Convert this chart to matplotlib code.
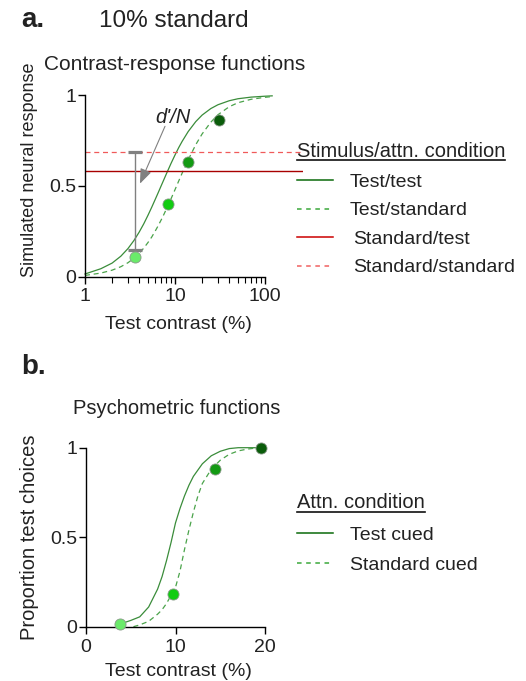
import matplotlib
matplotlib.use("Agg")
import matplotlib.pyplot as plt
from matplotlib.lines import Line2D

plt.rcParams['font.family'] = ['Liberation Sans', 'DejaVu Sans']
TXT = '#222222'

# ---------------- data ----------------
# panel a: contrast-response functions (test contrast in %)
crf_contrast = [1, 1.5, 2, 2.5, 3, 3.5, 4, 4.5, 5, 5.5, 6, 6.5, 7, 7.5, 8, 9, 10, 11, 12,
                14, 17, 20, 25, 30, 40, 50, 70, 100, 120]
crf_test_test = [0.015, 0.044, 0.075, 0.113, 0.155, 0.200, 0.246, 0.292, 0.338, 0.382,
                 0.424, 0.463, 0.500, 0.534, 0.566, 0.623, 0.671, 0.712, 0.746,
                 0.800, 0.855, 0.891, 0.927, 0.948, 0.970, 0.981, 0.990, 0.995, 0.997]
crf_test_standard = [0.007, 0.020, 0.036, 0.055, 0.077, 0.102, 0.129, 0.158, 0.188, 0.218,
                     0.250, 0.281, 0.312, 0.342, 0.372, 0.428, 0.480, 0.528, 0.571,
                     0.644, 0.728, 0.787, 0.852, 0.893, 0.937, 0.959, 0.978, 0.989, 0.993]
standard_test_resp = 0.583
standard_standard_resp = 0.687
dots_a_contrast = [3.6, 8.4, 13.8, 30.6]
dots_a_resp = [0.11, 0.40, 0.632, 0.862]
dprime_x = 3.6
dprime_lo = 0.147
dprime_hi = 0.687

# panel b: psychometric functions
psy_contrast_test = [3.8, 5, 6, 7, 7.5, 8, 8.5, 9, 9.5, 10, 10.5, 11, 11.5, 12, 13, 14,
                     15, 16, 17, 18, 19, 20]
psy_test_cued = [0.015, 0.035, 0.055, 0.11, 0.16, 0.21, 0.28, 0.37, 0.47, 0.58, 0.66,
                 0.73, 0.79, 0.84, 0.91, 0.955, 0.98, 0.995, 1.0, 1.0, 1.0, 1.0]
psy_contrast_std = [5.3, 6, 7, 7.5, 8, 8.5, 9, 9.5, 10, 10.5, 11, 11.5, 12, 12.5, 13, 14,
                    15, 16, 17, 18, 19, 19.6]
psy_standard_cued = [0.0, 0.01, 0.03, 0.05, 0.07, 0.095, 0.13, 0.175, 0.22, 0.31, 0.43,
                     0.54, 0.64, 0.73, 0.80, 0.88, 0.93, 0.963, 0.982, 0.992, 0.998, 1.0]
dots_b_contrast = [3.8, 9.7, 14.4, 19.6]
dots_b_prop = [0.015, 0.18, 0.88, 0.997]

dot_colors = ['#6aea6a', '#12cc12', '#139a13', '#0a5c0a']

legend_a_title = 'Stimulus/attn. condition'
legend_a_labels = ['Test/test', 'Test/standard', 'Standard/test', 'Standard/standard']
legend_b_title = 'Attn. condition'
legend_b_labels = ['Test cued', 'Standard cued']

# ---------------- figure ----------------
W, H = 526, 681
fig = plt.figure(figsize=(W / 100, H / 100), dpi=100)


def fx(px):
    return px / W


def fy(py):
    return 1 - py / H


CURVE_SOLID = '#3a8c3a'
CURVE_DASH = '#4aa34a'
DARKRED = '#a80000'
PINK = '#f05a5a'
FS = 14

# ---- panel a ----
ax1 = fig.add_axes([fx(85), fy(276.7), (303 - 85) / W, 181.4 / H])
ax1.set_xscale('log')
ax1.set_xlim(1, 264)
ax1.set_ylim(0, 1)
ax1.plot(crf_contrast, crf_test_test, color=CURVE_SOLID, lw=0.9, clip_on=False)
ax1.plot(crf_contrast, crf_test_standard, color=CURVE_DASH, lw=0.9, ls=(0, (4, 3)),
         clip_on=False)
ax1.axhline(standard_test_resp, color=DARKRED, lw=1.0)
ax1.axhline(standard_standard_resp, color=PINK, lw=0.9, ls=(0, (4, 3)))
mid = (dprime_lo + dprime_hi) / 2
ax1.errorbar([dprime_x], [mid], yerr=[[mid - dprime_lo], [dprime_hi - mid]],
             color='#808080', lw=1.0, capsize=5.3, capthick=2.3, fmt='none')
for c, r, col in zip(dots_a_contrast, dots_a_resp, dot_colors):
    ax1.plot([c], [r], 'o', ms=8, mfc=col, mec='#8a9a8a', mew=0.6, zorder=5, clip_on=False)
ax1.annotate('', xy=(4.08, 0.513), xytext=(7.74, 0.829),
             arrowprops=dict(arrowstyle='-|>,head_length=0.9,head_width=0.35',
                             color='#808080', lw=0.8, shrinkA=0, shrinkB=0))
ax1.text(9.4, 0.878, "d'/N", style='italic', fontsize=FS + 0.5, color=TXT,
         ha='center', va='center')

for s in ['top', 'right']:
    ax1.spines[s].set_visible(False)
ax1.spines['bottom'].set_bounds(1, 100)
ax1.spines['left'].set_bounds(0, 1)
for s in ['bottom', 'left']:
    ax1.spines[s].set_linewidth(1.0)
ax1.set_xticks([1, 10, 100])
ax1.set_xticklabels(['1', '10', '100'])
ax1.set_xticks([2, 3, 4, 5, 6, 7, 8, 9, 20, 30, 40, 50, 60, 70, 80, 90], minor=True)
ax1.xaxis.set_minor_formatter(matplotlib.ticker.NullFormatter())
ax1.set_yticks([0, 0.5, 1])
ax1.set_yticklabels(['0', '0.5', '1'])
ax1.tick_params(axis='both', which='major', length=5, width=1.0, labelsize=FS,
                labelcolor=TXT, pad=3)
ax1.tick_params(axis='x', which='minor', length=4, width=0.8)
ax1.tick_params(axis='y', pad=1.5)
ax1.set_xlabel('Test contrast (%)', fontsize=FS, color=TXT)
ax1.xaxis.set_label_coords((178 - 85) / (303 - 85), -0.215)

fig.text(fx(30), fy(170), 'Simulated neural response', rotation=90, fontsize=13,
         color=TXT, ha='center', va='center')

# ---- panel b ----
ax2 = fig.add_axes([fx(86), fy(626.7), 179 / W, 179 / H])
ax2.set_xlim(0, 20)
ax2.set_ylim(0, 1)
ax2.plot(psy_contrast_test, psy_test_cued, color=CURVE_SOLID, lw=0.9, clip_on=False)
ax2.plot(psy_contrast_std, psy_standard_cued, color=CURVE_DASH, lw=0.9, ls=(0, (4, 3)),
         clip_on=False)
for c, p, col in zip(dots_b_contrast, dots_b_prop, dot_colors):
    ax2.plot([c], [p], 'o', ms=8, mfc=col, mec='#8a9a8a', mew=0.6, zorder=5, clip_on=False)
for s in ['top', 'right']:
    ax2.spines[s].set_visible(False)
for s in ['bottom', 'left']:
    ax2.spines[s].set_linewidth(1.0)
ax2.set_xticks([0, 10, 20])
ax2.set_yticks([0, 0.5, 1])
ax2.set_yticklabels(['0', '0.5', '1'])
ax2.tick_params(axis='both', which='major', length=5, width=1.0, labelsize=FS,
                labelcolor=TXT, pad=4)
ax2.tick_params(axis='y', pad=1.5)
ax2.set_xlabel('Test contrast (%)', fontsize=FS, color=TXT)
ax2.xaxis.set_label_coords((178 - 86) / 179, -0.2)
fig.text(fx(30), fy(537), 'Proportion test choices', rotation=90, fontsize=14.5,
         color=TXT, ha='center', va='center')

# ---- titles ----
fig.text(fx(21), fy(20), 'a.', fontsize=20, fontweight='bold', color=TXT,
         ha='left', va='center')
fig.text(fx(99), fy(21), '10% standard', fontsize=17.5, color=TXT, ha='left', va='center')
fig.text(fx(44), fy(64), 'Contrast-response functions', fontsize=15, color=TXT,
         ha='left', va='center')
fig.text(fx(21), fy(367), 'b.', fontsize=20, fontweight='bold', color=TXT,
         ha='left', va='center')
fig.text(fx(73), fy(409), 'Psychometric functions', fontsize=FS + 0.5, color=TXT,
         ha='left', va='center')

# ---- legends (drawn manually) ----
renderer = fig.canvas.get_renderer()


def underlined_title(x, y, text, yline):
    t = fig.text(fx(x), fy(y), text, fontsize=14.5, color=TXT, ha='left', va='center')
    bb = t.get_window_extent(renderer=renderer)
    fig.add_artist(Line2D([bb.x0 / W, bb.x1 / W], [fy(yline), fy(yline)],
                          transform=fig.transFigure, color='#111111', lw=1.2))


underlined_title(297, 151.5, legend_a_title, 159.5)
a_styles = [('#0a6a0a', '-'), ('#3aa83a', (0, (3, 3))), ('#cc0000', '-'),
            ('#f06060', (0, (3, 3)))]
a_y = [182, 210.5, 239, 267.5]
a_x = [350, 350, 353, 353]
for lab, (col, ls), yy, xx in zip(legend_a_labels, a_styles, a_y, a_x):
    fig.add_artist(Line2D([fx(297), fx(333)], [fy(yy - 2), fy(yy - 2)],
                          transform=fig.transFigure, color=col, lw=1.1, ls=ls))
    fig.text(fx(xx), fy(yy), lab, fontsize=FS, color=TXT, ha='left', va='center')

underlined_title(297, 503, legend_b_title, 511.5)
b_styles = [('#0a6a0a', '-'), ('#3aa83a', (0, (3, 3)))]
b_y = [536, 566]
for lab, (col, ls), yy in zip(legend_b_labels, b_styles, b_y):
    fig.add_artist(Line2D([fx(297), fx(333)], [fy(yy - 3), fy(yy - 3)],
                          transform=fig.transFigure, color=col, lw=1.1, ls=ls))
    fig.text(fx(350), fy(yy), lab, fontsize=FS, color=TXT, ha='left', va='center')

fig.savefig('out.png', dpi=100)
